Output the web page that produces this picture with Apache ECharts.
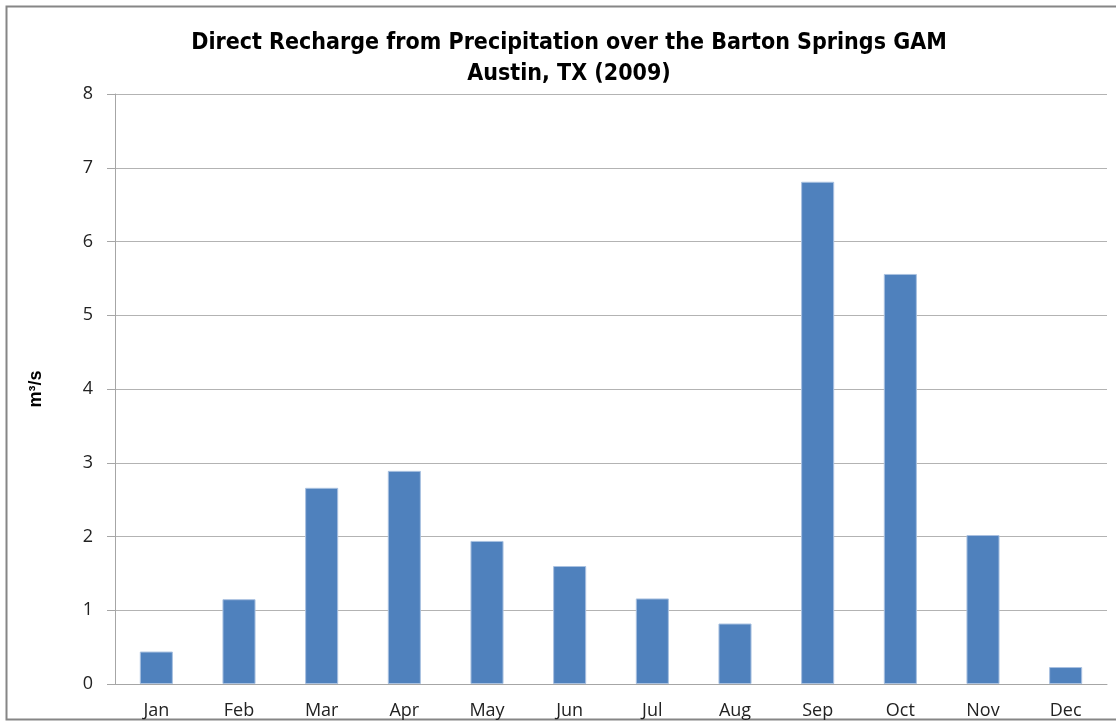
<!DOCTYPE html>
<html>
<head>
<meta charset="utf-8">
<script src="https://cdn.jsdelivr.net/npm/echarts@6/dist/echarts.min.js"></script>
<style>
  html, body { margin: 0; padding: 0; background: #fff; }
  #chart { width: 1116px; height: 721px; }
</style>
</head>
<body>
<div id="chart"></div>
<script>
const months = ["Jan", "Feb", "Mar", "Apr", "May", "Jun", "Jul", "Aug", "Sep", "Oct", "Nov", "Dec"];
const recharge = [0.44, 1.15, 2.66, 2.89, 1.94, 1.60, 1.16, 0.82, 6.81, 5.56, 2.02, 0.23];
const titleLines = ["Direct Recharge from Precipitation over the Barton Springs GAM", "Austin, TX (2009)"];

const chart = echarts.init(document.getElementById("chart"));

const option = {
  animation: false,
  backgroundColor: "#fff",
  title: {
    text: titleLines.join("\n"),
    left: 564,
    textAlign: "center",
    top: 23,
    textStyle: {
      fontFamily: "Liberation Sans Narrow, DejaVu Sans Condensed, Liberation Sans, sans-serif",
      fontWeight: "bold",
      fontSize: 23,
      lineHeight: 31,
      color: "#000"
    }
  },
  graphic: [
    {
      type: "rect",
      shape: { x: 6.5, y: 6.5, width: 1120, height: 713 },
      style: { fill: "none", stroke: "#868686", lineWidth: 2 },
      silent: true
    }
  ],
  grid: {
    left: 115,
    right: 9,
    top: 94,
    bottom: 37
  },
  xAxis: {
    type: "category",
    data: months,
    axisLine: { lineStyle: { color: "#a6a6a6", width: 1 } },
    axisTick: { show: false },
    axisLabel: {
      color: "#222",
      fontSize: 18,
      fontFamily: "Open Sans, Liberation Sans, sans-serif",
      margin: 18
    }
  },
  yAxis: {
    type: "value",
    min: 0,
    max: 8,
    interval: 1,
    name: "m³/s",
    nameLocation: "middle",
    nameGap: 70,
    nameRotate: 90,
    nameTextStyle: {
      fontFamily: "Liberation Sans, sans-serif",
      fontWeight: "bold",
      fontSize: 18,
      color: "#000"
    },
    axisLine: { show: true, lineStyle: { color: "#a6a6a6", width: 1 } },
    axisTick: { show: true, length: 8, lineStyle: { color: "#a6a6a6" } },
    axisLabel: {
      color: "#222",
      fontSize: 18,
      fontFamily: "Open Sans, Liberation Sans, sans-serif",
      margin: 22
    },
    splitLine: { lineStyle: { color: "#b3b3b3", width: 1 } }
  },
  series: [
    {
      type: "bar",
      data: recharge,
      barWidth: "40%",
      itemStyle: {
        color: "#4f81bd",
        borderColor: "#a9c1e0",
        borderWidth: 1
      }
    }
  ]
};

chart.setOption(option);
</script>
</body>
</html>
